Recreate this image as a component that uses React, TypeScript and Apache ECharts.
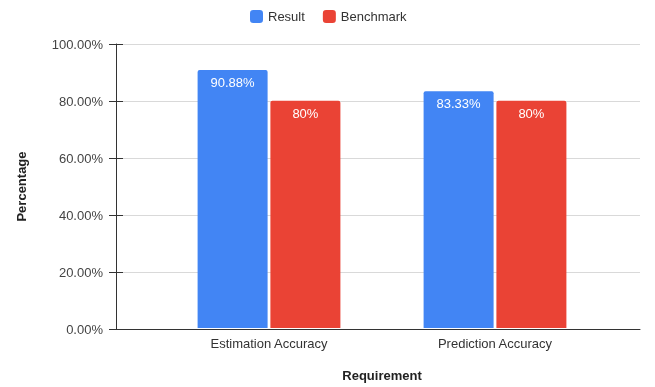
import React, { useEffect, useRef } from "react";
import * as echarts from "echarts";

const categories = ["Estimation Accuracy", "Prediction Accuracy"];
const resultValues = [90.88, 83.33];
const benchmarkValues = [80, 80];
const resultLabels = ["90.88%", "83.33%"];
const benchmarkLabels = ["80%", "80%"];
const yTicks = [0, 20, 40, 60, 80, 100];

const FONT = "Liberation Sans, Arial, sans-serif";

export default function App() {
  const ref = useRef<HTMLDivElement>(null);
  useEffect(() => {
    if (!ref.current) return;
    const chart = echarts.init(ref.current, null, { renderer: "svg" });
    const yBase = {
      type: "value",
      min: yTicks[0],
      max: yTicks[yTicks.length - 1],
      interval: 20,
    };
    chart.setOption({
      animation: false,
      textStyle: { fontFamily: FONT },
      legend: {
        top: 5,
        left: 245,
        itemWidth: 13,
        itemHeight: 13,
        itemGap: 18,
        icon: "roundRect",
        textStyle: { fontSize: 13, color: "#333", fontFamily: FONT },
        data: ["Result", "Benchmark"],
      },
      grid: [
        { left: 116, right: 15, top: 44, bottom: 58 },
        { left: 156, right: 47, top: 44, bottom: 58 },
      ],
      xAxis: [
        {
          gridIndex: 0,
          type: "value",
          min: 0,
          max: 1,
          axisLine: { show: true, onZero: false, lineStyle: { color: "#333", width: 1 } },
          axisTick: { show: false },
          axisLabel: { show: false },
          splitLine: { show: false },
        },
        {
          gridIndex: 1,
          type: "category",
          data: categories,
          axisLine: { show: false },
          axisTick: { show: false },
          axisLabel: { fontSize: 13, color: "#333", margin: 9, fontFamily: FONT },
          name: "Requirement",
          nameLocation: "middle",
          nameGap: 41,
          nameTextStyle: { fontSize: 13, fontWeight: "bold", color: "#222", fontFamily: FONT },
        },
      ],
      yAxis: [
        {
          ...yBase,
          gridIndex: 0,
          axisLine: { show: true, lineStyle: { color: "#333", width: 1 } },
          axisTick: { show: true, length: 7, lineStyle: { color: "#333" } },
          axisLabel: {
            fontSize: 13,
            color: "#444",
            margin: 13,
            fontFamily: FONT,
            formatter: (v: number) => v.toFixed(2) + "%",
          },
          splitLine: { show: true, lineStyle: { color: "#d9d9d9", width: 1 } },
          name: "Percentage",
          nameLocation: "middle",
          nameGap: 88,
          nameTextStyle: { fontSize: 13, fontWeight: "bold", color: "#222", fontFamily: FONT },
        },
        {
          ...yBase,
          gridIndex: 0,
          position: "left",
          axisLine: { show: false },
          axisTick: { show: true, inside: true, length: 7, lineStyle: { color: "#333" } },
          axisLabel: { show: false },
          splitLine: { show: false },
        },
        {
          ...yBase,
          gridIndex: 1,
          show: false,
        },
      ],
      series: [
        {
          name: "Result",
          type: "bar",
          xAxisIndex: 1,
          yAxisIndex: 2,
          data: resultValues,
          barWidth: 70,
          barGap: "4%",
          itemStyle: { color: "#4285F4", borderRadius: [2, 2, 0, 0] },
          label: {
            show: true,
            position: "insideTop",
            distance: 6,
            color: "#fff",
            fontSize: 13,
            fontFamily: FONT,
            formatter: (p: any) => resultLabels[p.dataIndex],
          },
        },
        {
          name: "Benchmark",
          type: "bar",
          xAxisIndex: 1,
          yAxisIndex: 2,
          data: benchmarkValues,
          barWidth: 70,
          itemStyle: { color: "#EA4335", borderRadius: [2, 2, 0, 0] },
          label: {
            show: true,
            position: "insideTop",
            distance: 6,
            color: "#fff",
            fontSize: 13,
            fontFamily: FONT,
            formatter: (p: any) => benchmarkLabels[p.dataIndex],
          },
        },
      ],
    });
    return () => chart.dispose();
  }, []);
  return <div ref={ref} style={{ width: 655, height: 387, position: "fixed", left: 0, top: 0 }} />;
}
